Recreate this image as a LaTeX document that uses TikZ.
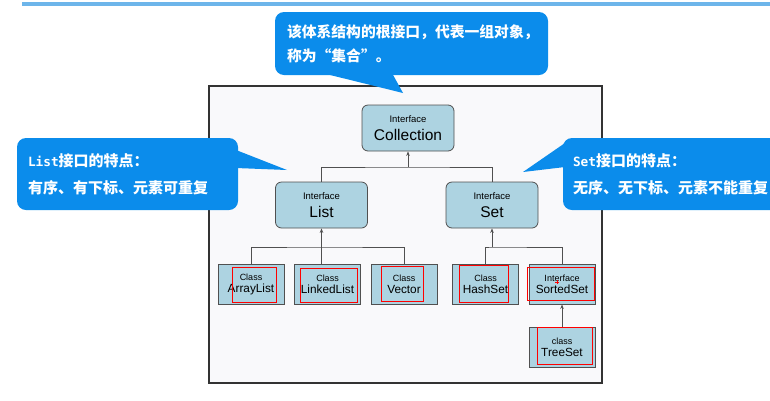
\documentclass[tikz,border=0pt]{standalone}
\usepackage{fontspec}
\setmainfont{Liberation Sans}
\newfontfamily\cjkfont{Noto Sans CJK SC}
\newfontfamily\latinmono{DejaVu Sans Mono}[Scale=0.85]
\usetikzlibrary{arrows.meta}
\definecolor{noteblue}{HTML}{0B8CEB}
\definecolor{boxblue}{HTML}{ADD3E1}
\definecolor{edgegray}{HTML}{505050}
\definecolor{topblue}{HTML}{6DB5EA}
\definecolor{paper}{HTML}{F9F9FB}
\newcommand{\smalltag}{\fontsize{9}{12}\selectfont}
\newcommand{\bigname}{\fontsize{15.5}{18}\selectfont}
\newcommand{\midname}{\fontsize{11.8}{12}\selectfont}
\tikzset{
  iface/.style={
    draw=edgegray,
    fill=boxblue,
    line width=0.8pt,
    rounded corners=6pt,
    minimum width=92pt,
    minimum height=46pt,
    align=center,
    inner sep=0pt,
    font=\fontsize{9.5}{18}\selectfont
  },
  klass/.style={
    draw=edgegray,
    fill=boxblue,
    line width=0.9pt,
    minimum width=66pt,
    minimum height=40pt,
    align=center,
    inner sep=0pt,
    font=\smalltag
  },
  note/.style={
    fill=noteblue,
    text=white,
    rounded corners=9pt,
    align=left,
    inner ysep=0pt,
    font=\cjkfont\bfseries\fontsize{15}{27}\selectfont
  },
  link/.style={draw=edgegray, line width=0.7pt},
  up/.style={link, -{Stealth[length=4.5pt,width=3.5pt]}},
  redbox/.style={draw=red, line width=0.7pt}
}
\begin{document}
\begin{tikzpicture}[x=1pt,y=-1pt]
  \useasboundingbox (0,0) rectangle (770,400);
  \fill[topblue] (22,1.5) rectangle (770,5.5);
  \draw[draw=black!80, fill=paper, line width=1.2pt] (209,86) rectangle (602,383);

  % interfaces
  \node[iface] (coll) at (408,128) {Interface\\{\bigname Collection}};
  \node[iface] (list) at (321.5,205) {Interface\\{\bigname List}};
  \node[iface] (set) at (492,205) {Interface\\{\bigname Set}};

  % implementations
  \foreach \nm/\x/\kind/\txt in {al/251/Class/ArrayList, ll/327.5/Class/LinkedList,
      vec/404/Class/Vector, hs/485.5/Class/HashSet, ss/562/Interface/SortedSet}{
    \node[klass] (\nm) at (\x,284) {\kind\\{\midname \txt}};
  }
  \node[klass] (ts) at (562,347) {class\\{\midname TreeSet}};

  \coordinate (j1) at (408,167);
  \coordinate (j2) at (321.5,247);
  \coordinate (j3) at (492,247);
  \draw[link] (list.north) |- (j1) -| (set.north);
  \draw[up] (j1) -- (coll.south);
  \draw[link] (al.north) |- (j2) -| (vec.north);
  \draw[link] (j2) -- (j2 |- ll.north);
  \draw[up] (j2) -- (list.south);
  \draw[link] (hs.north) |- (j3) -| (ss.north);
  \draw[up] (j3) -- (set.south);
  \draw[up] (ts.north) -- (ss.south);

  % red marks
  \draw[redbox] (232,267) rectangle (276,302);
  \draw[redbox] (300,268) rectangle (357,302);
  \draw[redbox] (381,266) rectangle (423,301);
  \draw[redbox] (459,265) rectangle (508,302);
  \draw[redbox] (527,267) rectangle (594,300);
  \draw[redbox] (537,327) rectangle (592,364);
  \draw[red, line width=0.6pt] (555,282) -- (559,282) (557,280) -- (557,284);

  % callouts
  \node[note, inner xsep=12pt, text width=249pt, minimum height=63pt,
    font=\cjkfont\bfseries\fontsize{14.8}{24}\selectfont] (topnote) at (411.5,43.5)
    {该体系结构的根接口，代表一组对象，\\称为“集合”。};
  \fill[noteblue] (322,73) -- (403,93) -- (392,73) -- cycle;
  \node[note, inner xsep=11pt, text width=199pt, minimum height=72pt] (listnote) at (127.5,174)
    {{\latinmono List}接口的特点：\\有序、有下标、元素可重复};
  \fill[noteblue] (236,150) -- (287,170) -- (236,168) -- cycle;
  \node[note, inner xsep=10pt, text width=210pt, minimum height=72pt] (setnote) at (678,174)
    {{\latinmono Set}接口的特点：\\无序、无下标、元素不能重复};
  \fill[noteblue] (565,143) -- (523,172) -- (565,167) -- cycle;
\end{tikzpicture}
\end{document}
